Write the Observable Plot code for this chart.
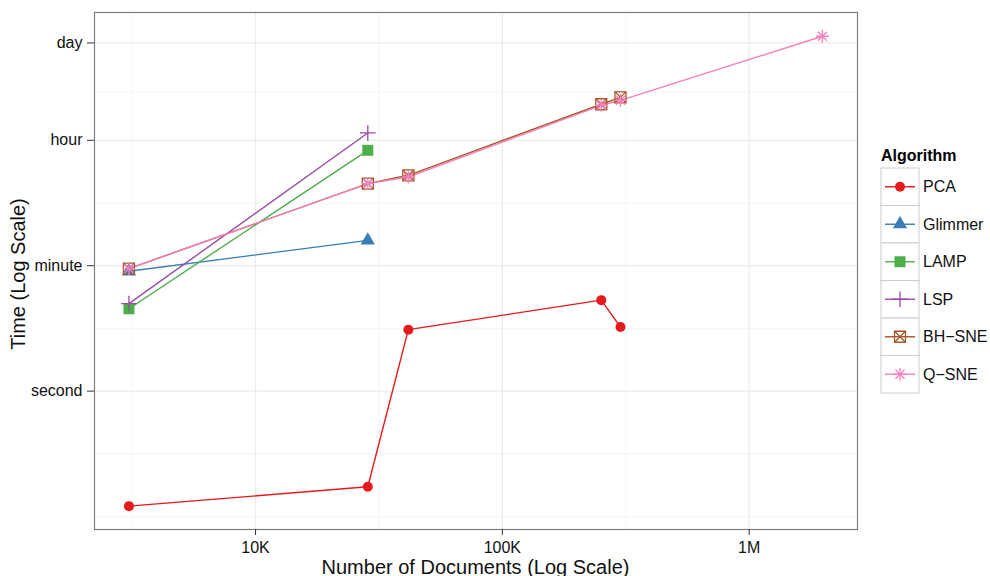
<!DOCTYPE html>
<html><head><meta charset="utf-8">
<script src="https://cdn.jsdelivr.net/npm/d3@7"></script>
<script src="https://cdn.jsdelivr.net/npm/@observablehq/plot@0.6"></script>
<style>body{margin:0;background:#fff;}</style>
</head><body><div id="chart"></div>
<script>
const algorithms = ["PCA", "Glimmer", "LAMP", "LSP", "BH\u2212SNE", "Q\u2212SNE"];
const colors = ["#E41A1C", "#377EB8", "#4DAF4A", "#984EA3", "#A65628", "#F781BF"];

const pcaDocs = [3070, 28500, 41600, 251600, 301000];
const pcaSecs = [0.0234, 0.044, 7.43, 19.5, 8.09];
const glimmerDocs = [3070, 28500];
const glimmerSecs = [50, 137];
const lampDocs = [3070, 28500];
const lampSecs = [14.7, 2595];
const lspDocs = [3070, 28500];
const lspSecs = [17.4, 4570];
const bhsneDocs = [3070, 28500, 41600, 251600, 301000];
const bhsneSecs = [54.5, 875, 1148, 11670, 14650];
const qsneDocs = [3070, 28500, 41600, 251600, 301000, 1980000];
const qsneSecs = [54.5, 875, 1085, 11280, 13280, 107400];

const xTicks = [1e4, 1e5, 1e6];
const xTickLabels = ["10K", "100K", "1M"];
const xMinor = [3162, 31623, 316228];
const yTicks = [1, 60, 3600, 86400];
const yTickLabels = ["second", "minute", "hour", "day"];
const yMinor = [0.01667, 0.1291, 7.746, 464.8, 17636];

const seriesDocs = [pcaDocs, glimmerDocs, lampDocs, lspDocs, bhsneDocs, qsneDocs];
const seriesSecs = [pcaSecs, glimmerSecs, lampSecs, lspSecs, bhsneSecs, qsneSecs];
const rows = [];
algorithms.forEach((a, i) => seriesDocs[i].forEach((d, j) => rows.push({alg: a, docs: d, secs: seriesSecs[i][j]})));
const of = a => rows.filter(r => r.alg === a);

// symbol specs per algorithm: list of [symbol, r, filled]
const shapes = [
  [["circle", 5, true]],
  [["triangle", 5.3, true]],
  [["square", 6.2, true]],
  [["plus", 5.1, false]],
  [["square2", 7, false], ["times", 5, false]],
  [["plus", 4.2, false], ["times", 4.2, false]]
];

const dotMarks = [];
algorithms.forEach((a, i) => {
  shapes[i].forEach(([sym, r, filled]) => {
    dotMarks.push(Plot.dot(of(a), {
      x: "docs", y: "secs", symbol: sym, r,
      fill: filled ? colors[i] : "none",
      stroke: filled ? "none" : colors[i],
      strokeWidth: 1.3
    }));
  });
});

const yLabelRows = yTicks.map((v, i) => ({v, label: yTickLabels[i]}));

const chart = Plot.plot({
  width: 990, height: 576,
  marginLeft: 94, marginRight: 133, marginTop: 12, marginBottom: 47,
  style: {fontFamily: "'Liberation Sans', Arial, Helvetica, sans-serif", fontSize: "16px", background: "#fff"},
  x: {type: "log", domain: [10 ** 3.3476, 10 ** 6.4388]},
  y: {type: "log", domain: [10 ** -1.962, 10 ** 5.368]},
  color: {domain: algorithms, range: colors},
  marks: [
    Plot.ruleX(xMinor, {stroke: "#f6f6f6", strokeWidth: 1.2}),
    Plot.ruleY(yMinor, {stroke: "#f6f6f6", strokeWidth: 1.2}),
    Plot.ruleX(xTicks, {stroke: "#ebebeb", strokeWidth: 1.2}),
    Plot.ruleY(yTicks, {stroke: "#ebebeb", strokeWidth: 1.2}),
    Plot.line(rows, {x: "docs", y: "secs", z: "alg", stroke: "alg", strokeWidth: 1.4}),
    ...dotMarks,
    Plot.frame({stroke: "#7f7f7f", strokeWidth: 1.2}),
    Plot.axisX(xTicks, {tickFormat: d => xTickLabels[xTicks.indexOf(d)], tickSize: 6, tickPadding: 6, label: null, stroke: "#333", fill: "#111", fontSize: 16}),
    Plot.axisY(yTicks, {tickFormat: () => "", tickSize: 7, label: null, stroke: "#333"}),
    Plot.text(yLabelRows, {y: "v", text: "label", frameAnchor: "left", textAnchor: "end", dx: -12, fill: "#111", fontSize: 16})
  ]
});
document.getElementById("chart").appendChild(chart);

const svg = d3.select(chart);
const ff = "'Liberation Sans', Arial, Helvetica, sans-serif";
svg.append("text").attr("x", 475.5).attr("y", 573.5).attr("text-anchor", "middle")
  .attr("font-size", 20).attr("font-family", ff).attr("fill", "#111").text("Number of Documents (Log Scale)");
svg.append("text").attr("transform", "translate(25,274) rotate(-90)").attr("text-anchor", "middle")
  .attr("font-size", 20).attr("font-family", ff).attr("fill", "#111").text("Time (Log Scale)");

const lg = svg.append("g").attr("font-family", ff);
lg.append("text").attr("x", 881).attr("y", 161).attr("text-anchor", "start").attr("font-weight", "bold")
  .attr("font-size", 16).attr("fill", "#000").text("Algorithm");
const d3sym = {circle: d3.symbolCircle, triangle: d3.symbolTriangle, square: d3.symbolSquare, plus: d3.symbolPlus, square2: d3.symbolSquare2, times: d3.symbolTimes};
algorithms.forEach((a, i) => {
  const y0 = 168 + i * 37.5, cy = y0 + 18.75;
  lg.append("rect").attr("x", 881).attr("y", y0).attr("width", 38).attr("height", 37.5)
    .attr("fill", "#fff").attr("stroke", "#cccccc").attr("stroke-width", 1);
  lg.append("line").attr("x1", 885).attr("x2", 915).attr("y1", cy).attr("y2", cy)
    .attr("stroke", colors[i]).attr("stroke-width", 1.4);
  shapes[i].forEach(([sym, r, filled]) => {
    lg.append("path").attr("transform", `translate(900,${cy})`)
      .attr("d", d3.symbol(d3sym[sym], Math.PI * r * r)())
      .attr("fill", filled ? colors[i] : "none").attr("stroke", filled ? "none" : colors[i]).attr("stroke-width", 1.3);
  });
  lg.append("text").attr("x", 923).attr("y", cy).attr("dy", "0.35em").attr("text-anchor", "start")
    .attr("font-size", 16).attr("fill", "#111").text(a);
});
</script>
</body></html>
